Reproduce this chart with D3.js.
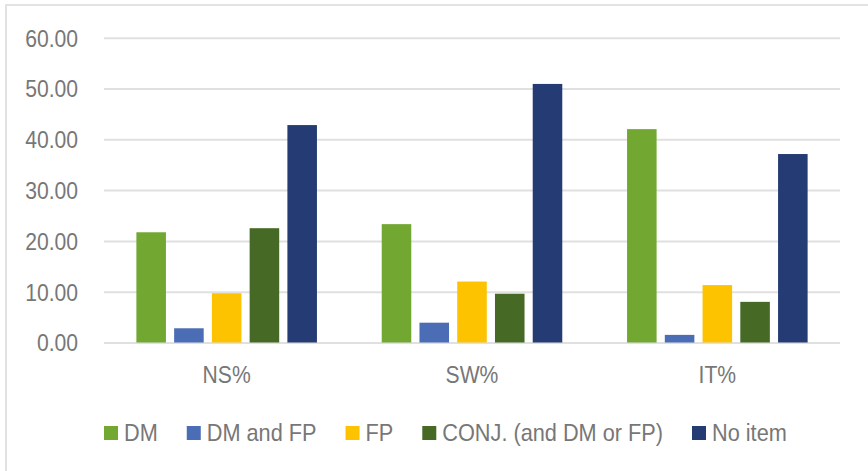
<!DOCTYPE html>
<html>
<head>
<meta charset="utf-8">
<script src="https://cdn.jsdelivr.net/npm/d3@7"></script>
<style>
  html, body { margin: 0; padding: 0; background: #ffffff; }
  svg { display: block; }
  text { font-family: "Liberation Sans", Arial, sans-serif; font-size: 24px; fill: #777777; }
</style>
</head>
<body>
<svg id="chart" width="868" height="471"></svg>
<script>
// Share of items per region, in percent
const categories = ["NS%", "SW%", "IT%"];
const seriesNames = ["DM", "DM and FP", "FP", "CONJ. (and DM or FP)", "No item"];
const dmValues     = [21.7, 23.3, 42.0];
const dmFpValues   = [2.8, 3.9, 1.5];
const fpValues     = [9.7, 12.0, 11.3];
const conjValues   = [22.5, 9.6, 8.0];
const noItemValues = [42.8, 50.9, 37.1];
const yTicks = [0, 10, 20, 30, 40, 50, 60];

const seriesValues = [dmValues, dmFpValues, fpValues, conjValues, noItemValues];
const colors = ["#72A832", "#4A6DB5", "#FDC200", "#466A26", "#253B73"];

const squeeze = 0.88;       // condensed look for axis labels
const legendSqueeze = 0.905;

const svg = d3.select("#chart");

// chart area frame
svg.append("rect")
  .attr("x", 6).attr("y", 5)
  .attr("width", 940).attr("height", 520)
  .attr("fill", "none")
  .attr("stroke", "#e2e2e2")
  .attr("stroke-width", 2);

const plot = { left: 104, right: 840, top: 37.7, bottom: 342.5 };

const y = d3.scaleLinear().domain([0, 60]).range([plot.bottom, plot.top]);
const x0 = d3.scaleBand().domain(categories).range([plot.left, plot.right])
  .paddingInner(0.264).paddingOuter(0.132);
const x1 = d3.scaleBand().domain(seriesNames).range([0, x0.bandwidth()])
  .paddingInner(0.217).paddingOuter(0);

// horizontal gridlines
const grid = svg.append("g").attr("transform", `translate(${plot.left},0)`)
  .call(d3.axisLeft(y).tickValues(yTicks).tickSize(-(plot.right - plot.left)).tickFormat(""));
grid.select(".domain").remove();
grid.selectAll(".tick line").attr("stroke", "#e0e0e0").attr("stroke-width", 2);

// y-axis labels
const yAxis = svg.append("g").attr("transform", `translate(${plot.left},0)`)
  .call(d3.axisLeft(y).tickValues(yTicks).tickFormat(d3.format(".2f")).tickSize(0));
yAxis.select(".domain").remove();
yAxis.selectAll(".tick line").remove();
yAxis.selectAll(".tick text")
  .attr("x", 0).attr("dy", "0.35em")
  .attr("fill", "#777777")
  .style("font-size", "24px")
  .style("font-family", "'Liberation Sans', Arial, sans-serif")
  .attr("transform", `translate(-26,0) scale(${squeeze},1)`);

// bars
const groups = svg.append("g").selectAll("g")
  .data(categories)
  .join("g")
  .attr("transform", d => `translate(${x0(d)},0)`);

groups.selectAll("rect")
  .data((c, ci) => seriesNames.map((s, si) => ({ s, si, v: seriesValues[si][ci] })))
  .join("rect")
  .attr("x", d => x1(d.s))
  .attr("width", x1.bandwidth())
  .attr("y", d => y(d.v))
  .attr("height", d => y(0) - y(d.v))
  .attr("fill", d => colors[d.si]);

// category labels
const xAxis = svg.append("g").attr("transform", `translate(0,${plot.bottom})`)
  .call(d3.axisBottom(x0).tickSize(0));
xAxis.select(".domain").remove();
xAxis.selectAll(".tick text")
  .attr("y", 0).attr("dy", "0.35em")
  .attr("fill", "#777777")
  .style("font-size", "24px")
  .style("font-family", "'Liberation Sans', Arial, sans-serif")
  .attr("transform", `translate(0,32) scale(${squeeze},1)`);

// legend
const legend = svg.append("g").attr("transform", "translate(104,433)");
let lx = 0;
seriesNames.forEach((name, i) => {
  const item = legend.append("g").attr("transform", `translate(${lx},0)`);
  item.append("rect")
    .attr("x", 0).attr("y", -7)
    .attr("width", 14).attr("height", 14)
    .attr("fill", colors[i]);
  const t = item.append("text")
    .attr("dy", "0.35em")
    .attr("transform", `translate(20,0) scale(${legendSqueeze},1)`)
    .text(name);
  const w = t.node().getComputedTextLength() * legendSqueeze;
  lx += 20 + w + 29;
});
</script>
</body>
</html>
